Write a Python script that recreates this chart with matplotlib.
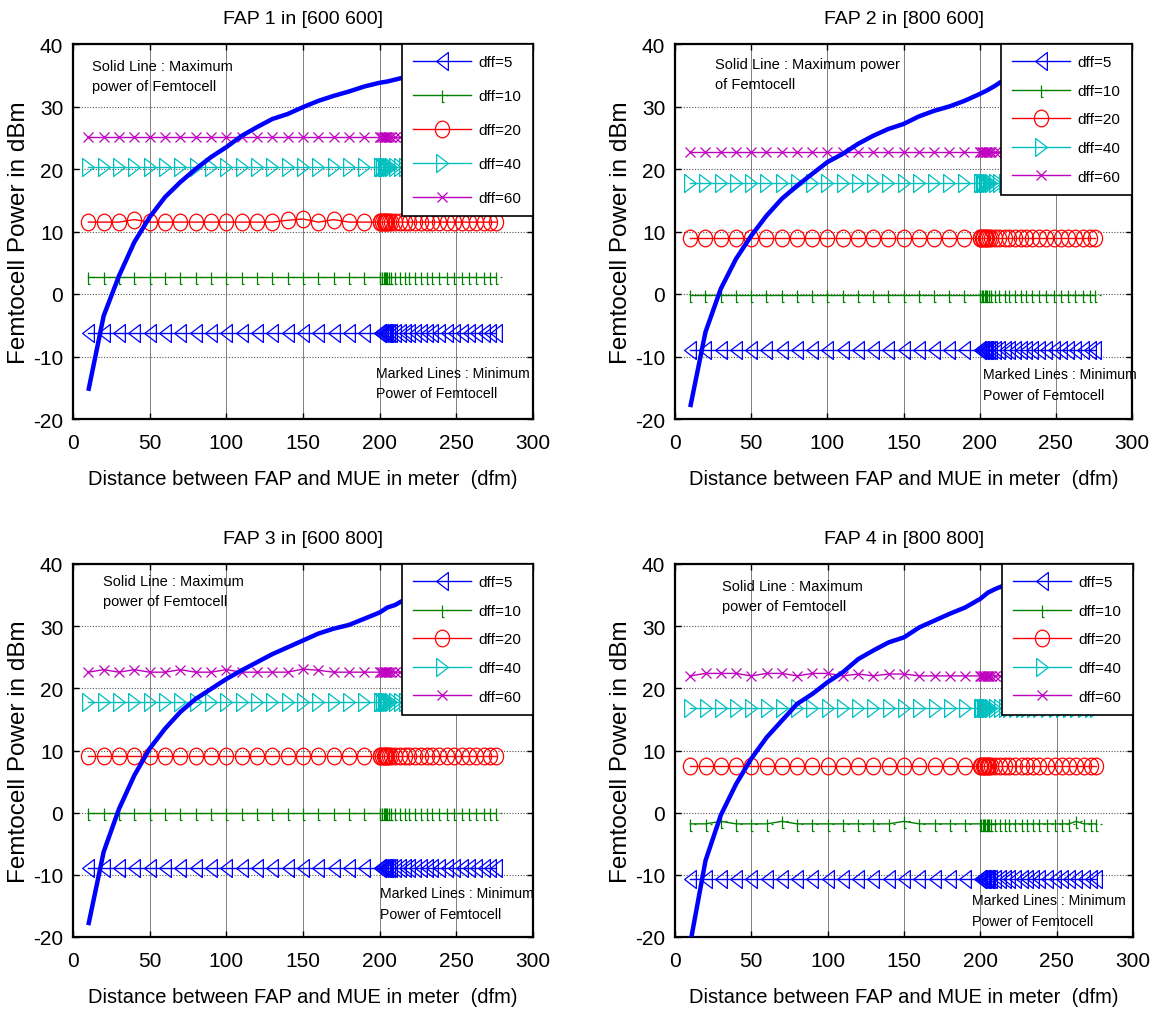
import matplotlib
matplotlib.use("Agg")
import matplotlib.pyplot as plt
import numpy as np
from matplotlib.path import Path
from matplotlib.transforms import Affine2D

# ---------------- data ----------------
titles = ["FAP 1 in [600 600]", "FAP 2 in [800 600]", "FAP 3 in [600 800]", "FAP 4 in [800 800]"]
dff_labels = ["dff=5", "dff=10", "dff=20", "dff=40", "dff=60"]

# x positions of the marked (minimum power) lines
x_dfm = [10, 20, 30, 40, 50, 60, 70, 80, 90, 100, 110, 120, 130, 140, 150, 160, 170, 180, 190,
         200, 200.5, 201.5, 202.5, 203.3, 204.2, 205, 206, 207.2, 209.8, 213, 216.4, 219, 223,
         227, 230.6, 234.4, 238.7, 243.8, 248.8, 253.6, 258, 262.8, 267.8, 272.2, 276]

# minimum power levels (dBm) for dff = 5, 10, 20, 40, 60
fap1_min = [-6.2, 2.8, 11.5, 20.4, 25.2]
fap2_min = [-9.0, -0.1, 9.0, 17.8, 22.8]
fap3_min = [-8.9, -0.1, 9.1, 17.8, 22.6]
fap4_min = [-10.7, -1.8, 7.5, 16.8, 22.0]

# small visible deviations on some marked lines: {x: value}
fap1_dff20_dev = {40: 11.9, 140: 11.8, 150: 12.0, 170: 11.9}
fap3_dff60_dev = {20: 23.0, 40: 23.0, 70: 23.0, 100: 23.0, 150: 23.1, 160: 22.9}
fap4_dff60_dev = {20: 22.4, 30: 22.4, 40: 22.4, 60: 22.4, 70: 22.4, 90: 22.4, 100: 22.4,
                  120: 22.3, 140: 22.3, 150: 22.3}
fap4_dff10_dev = {30: -1.4, 70: -1.4, 150: -1.4, 250: -1.5, 262.8: -1.4}

# maximum power curves
x_max = [10, 20, 30, 40, 50, 60, 70, 80, 90, 100, 110, 120, 130, 140, 150, 160, 170, 180,
         190, 200, 205, 210, 215]
fap1_max = [-15.5, -3.5, 2.9, 8.3, 12.3, 15.5, 17.9, 20.0, 21.9, 23.5, 25.3, 26.7, 28.0, 28.8,
            29.9, 30.9, 31.7, 32.4, 33.2, 33.8, 34.0, 34.3, 34.6]
fap2_max = [-18.1, -6.1, 0.8, 5.6, 9.3, 12.5, 15.2, 17.3, 19.2, 21.1, 22.4, 24.0, 25.3, 26.4,
            27.2, 28.4, 29.3, 30.0, 30.9, 32.0, 32.6, 33.3, 34.1]
fap3_max = [-18.1, -6.3, 0.6, 6.0, 10.3, 13.5, 16.2, 18.3, 19.9, 21.5, 22.9, 24.2, 25.5, 26.6,
            27.7, 28.8, 29.6, 30.2, 31.2, 32.2, 33.0, 33.4, 34.1]
fap4_max = [-21.0, -7.7, -0.4, 4.6, 8.7, 12.1, 14.8, 17.5, 19.1, 21.0, 22.6, 24.7, 26.1, 27.4,
            28.2, 29.8, 30.9, 32.0, 33.0, 34.4, 35.4, 36.0, 36.5]

panel_min = [fap1_min, fap2_min, fap3_min, fap4_min]
panel_max = [fap1_max, fap2_max, fap3_max, fap4_max]
panel_dev = [{2: fap1_dff20_dev}, {}, {4: fap3_dff60_dev}, {4: fap4_dff60_dev, 1: fap4_dff10_dev}]

solid_texts = ["Solid Line : Maximum\npower of Femtocell", "Solid Line : Maximum power\nof Femtocell",
               "Solid Line : Maximum\npower of Femtocell", "Solid Line : Maximum\npower of Femtocell"]
marked_text = "Marked Lines : Minimum\nPower of Femtocell"

# ---------------- styles ----------------
FONT = ["Liberation Sans", "DejaVu Sans"]
plt.rcParams["font.family"] = FONT
plt.rcParams["axes.unicode_minus"] = False

tri_left = Path([(-0.65, 0), (0.65, 1), (0.65, -1), (-0.65, 0)],
                [Path.MOVETO, Path.LINETO, Path.LINETO, Path.CLOSEPOLY])
tri_right = Path([(0.65, 0), (-0.65, 1), (-0.65, -1), (0.65, 0)],
                 [Path.MOVETO, Path.LINETO, Path.LINETO, Path.CLOSEPOLY])
ellipse = Path.unit_circle().transformed(Affine2D().scale(0.85, 1.0))
tick_mk = Path([(0, 0.7), (0, -1), (0.3, -1), (0.5, 0), (0.8, 0)],
               [Path.MOVETO, Path.LINETO, Path.LINETO, Path.MOVETO, Path.LINETO])

colors = ["#0000FF", "#008000", "#FF0000", "#00BFBF", "#BF00BF"]
markers = [tri_left, tick_mk, ellipse, tri_right, "x"]
msizes = [13, 10.5, 12, 13, 6.5]

axes_rects = [
    [73 / 1159, 592 / 1012, 460 / 1159, 375 / 1012],
    [675 / 1159, 592 / 1012, 457 / 1159, 375 / 1012],
    [73 / 1159, 74 / 1012, 460 / 1159, 373 / 1012],
    [675 / 1159, 74 / 1012, 458 / 1159, 373 / 1012],
]
solid_pos = [(12.4, 37.6), (26, 38.0), (19.6, 38.4), (30.8, 37.6)]
marked_pos = [(197.6, -11.5), (202, -11.7), (200, -11.8), (194.5, -13.0)]
leg_spacing = [1.3, 0.95, 0.95, 0.95]

fig = plt.figure(figsize=(11.59, 10.12), dpi=100)

for p in range(4):
    ax = fig.add_axes(axes_rects[p])
    xs = np.array(x_dfm, dtype=float)
    handles = []
    for s in range(5):
        ys = np.full(len(xs), panel_min[p][s], dtype=float)
        dev = panel_dev[p].get(s, {})
        for xv, yv in dev.items():
            ys[np.isclose(xs, xv)] = yv
        h, = ax.plot(xs, ys, color=colors[s], lw=1.0, marker=markers[s], ms=msizes[s],
                     mfc="none", mec=colors[s], mew=0.9, label=dff_labels[s], zorder=2)
        handles.append(h)
    ax.plot(x_max, panel_max[p], color="#0000FF", lw=3.2, zorder=3, solid_capstyle="butt")

    ax.set_xlim(0, 300)
    ax.set_ylim(-20, 40)
    ax.set_xticks([0, 50, 100, 150, 200, 250, 300])
    ax.set_yticks([-20, -10, 0, 10, 20, 30, 40])
    ax.grid(axis="x", color="#7f7f7f", lw=0.7, ls="-")
    ax.grid(axis="y", color="#555555", lw=0.8, ls=(0, (1, 1.5)))
    ax.set_axisbelow(True)
    ax.tick_params(direction="in", top=True, right=True, length=4, width=1,
                   labelsize=15, pad=7)
    ax.tick_params(axis="x", pad=10)
    for sp in ax.spines.values():
        sp.set_linewidth(1.6)

    ax.set_title(titles[p], fontsize=14, pad=15)
    ax.set_xlabel("Distance between FAP and MUE in meter  (dfm)", fontsize=14.5, labelpad=12)
    ax.set_ylabel("Femtocell Power in dBm", fontsize=17.5, labelpad=2)

    ax.text(solid_pos[p][0], solid_pos[p][1], solid_texts[p], fontsize=10.5, va="top",
            ha="left", linespacing=1.55, zorder=6)
    ax.text(marked_pos[p][0], marked_pos[p][1], marked_text, fontsize=10.2, va="top",
            ha="left", linespacing=1.6, zorder=6, clip_on=False)

    leg = ax.legend(handles=handles, loc="upper right", borderaxespad=0.0, fontsize=11,
                    handlelength=3.8, handletextpad=0.5, borderpad=0.75,
                    labelspacing=leg_spacing[p], fancybox=False, framealpha=1.0,
                    edgecolor="black")
    leg.get_frame().set_linewidth(1.2)
    leg.set_zorder(10)

fig.savefig("out.png", dpi=100)
